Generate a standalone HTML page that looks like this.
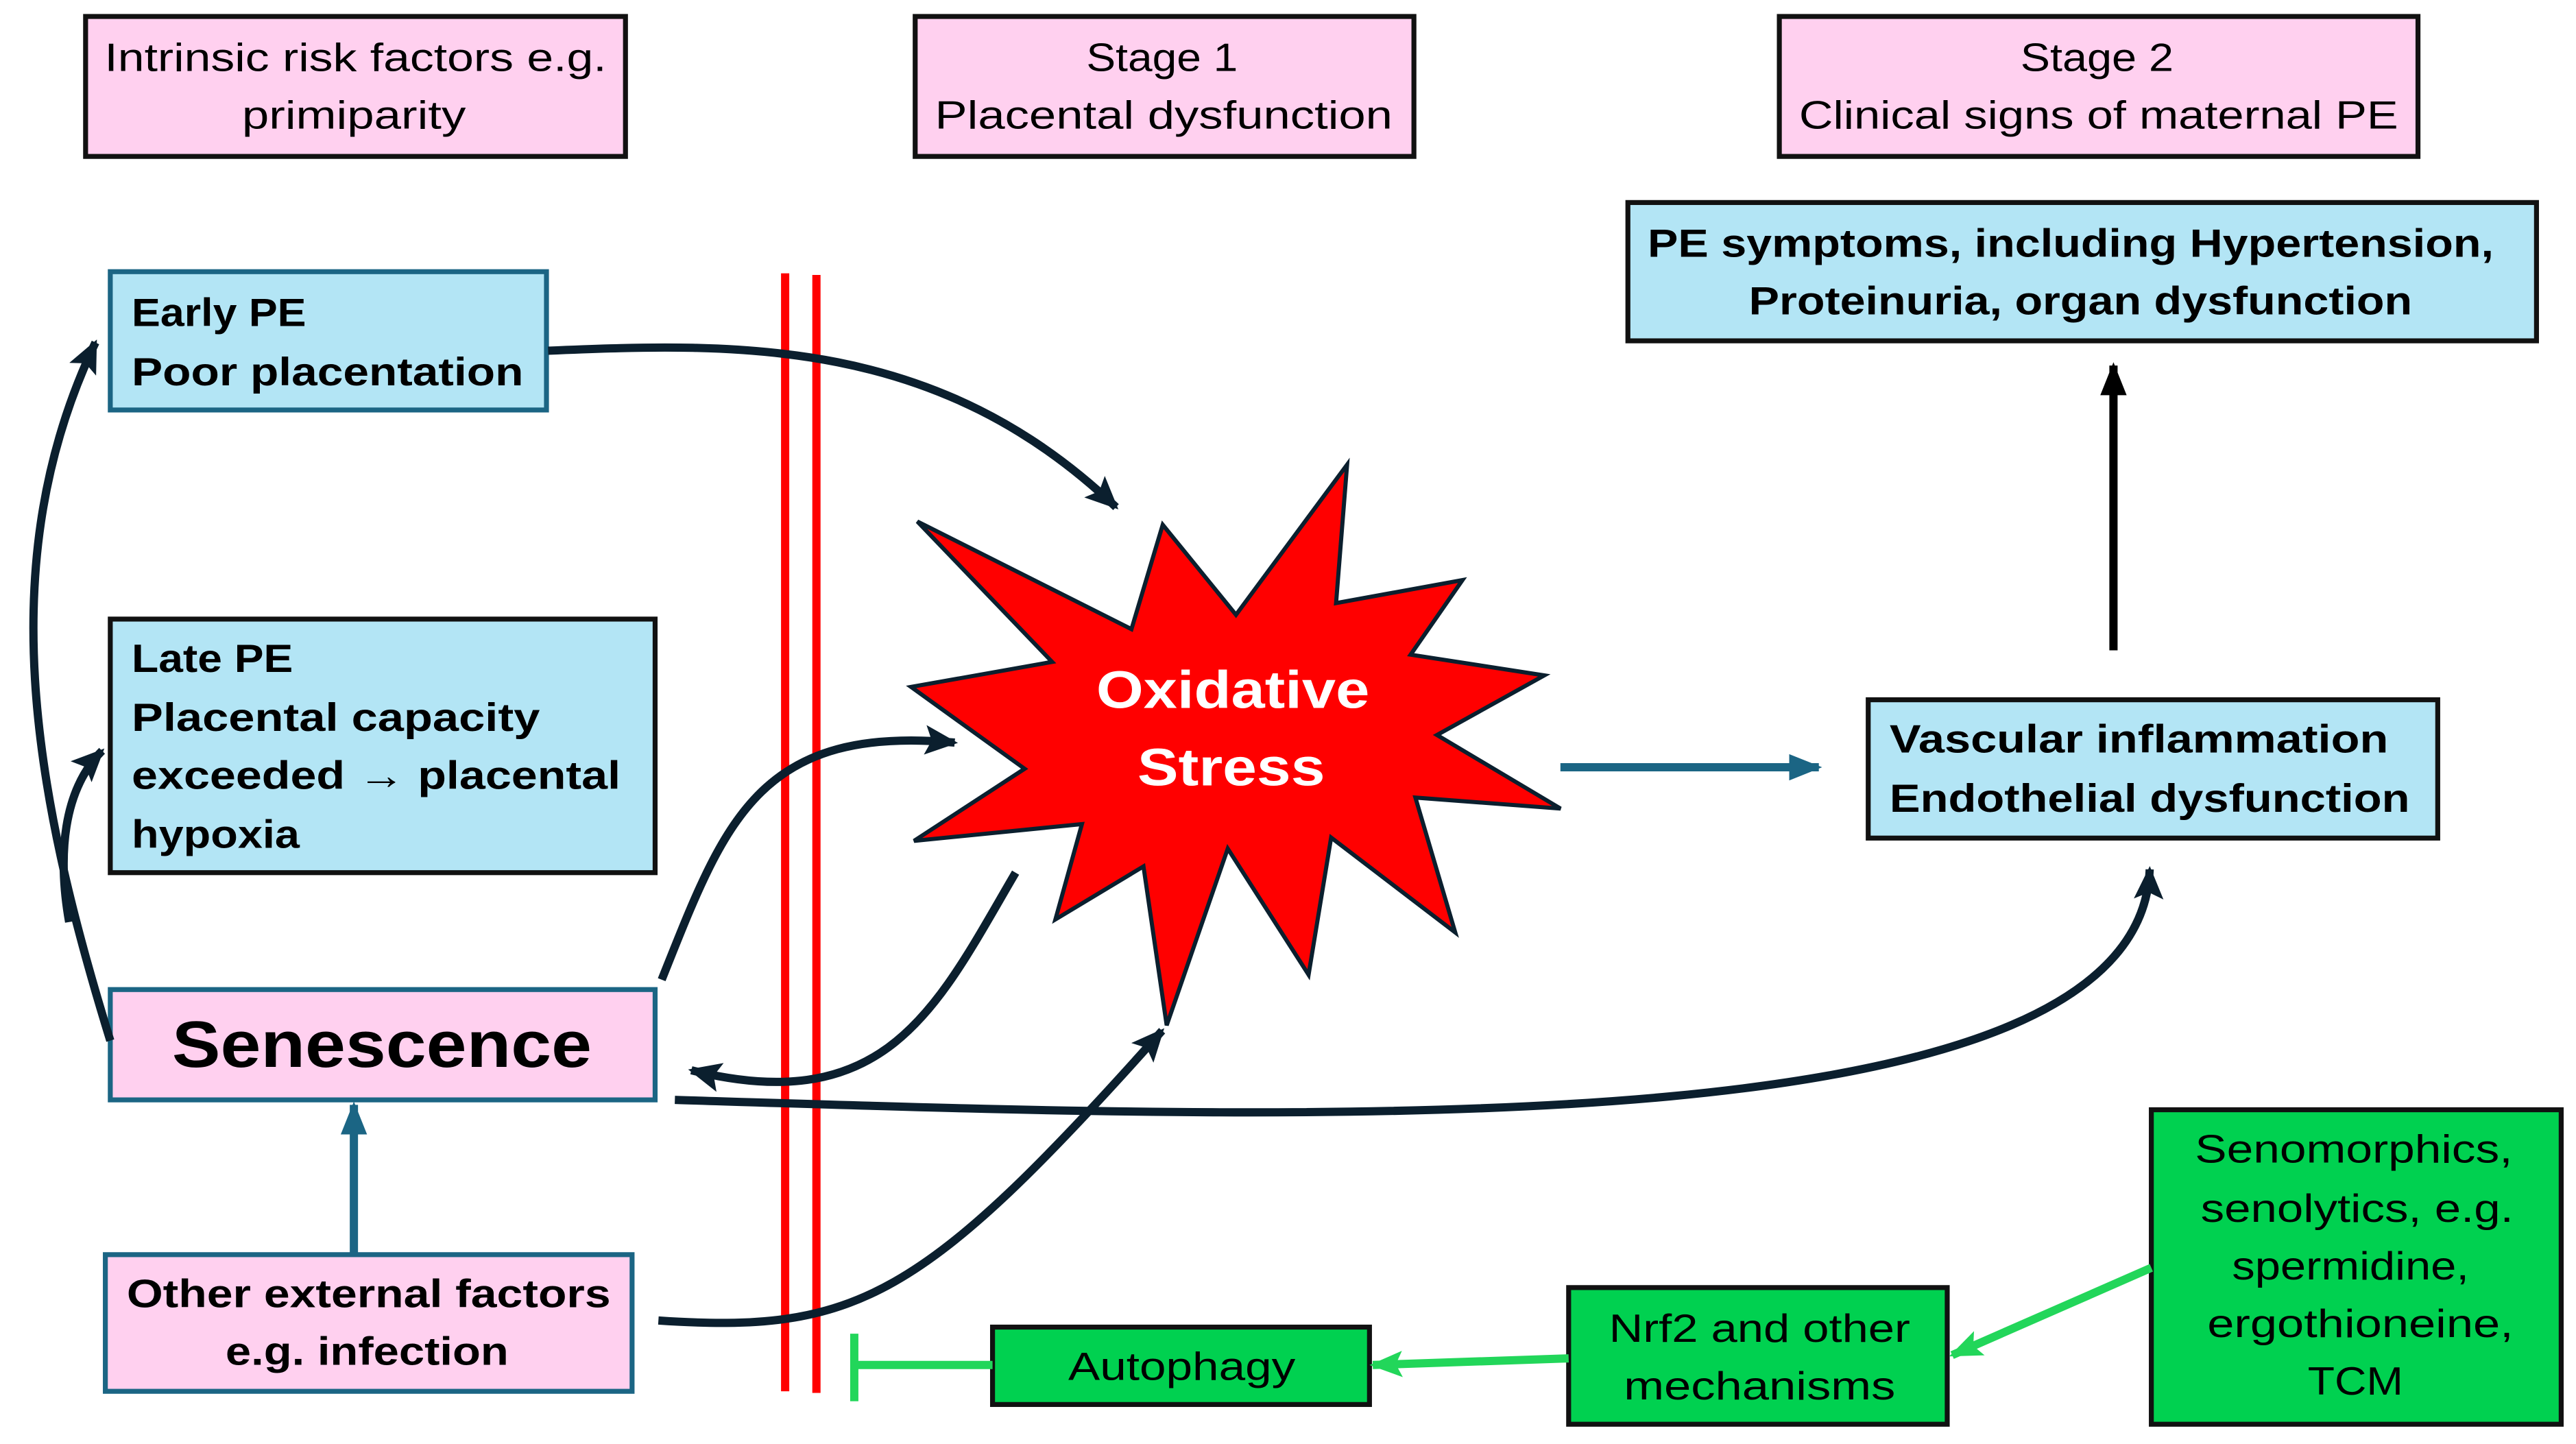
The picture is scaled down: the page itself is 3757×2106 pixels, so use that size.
<!DOCTYPE html>
<html><head><meta charset="utf-8"><style>html,body{margin:0;padding:0;background:#fff;width:3757px;height:2106px;overflow:hidden}svg{display:block}</style></head><body>
<svg width="3757" height="2106" viewBox="0 0 1565 877" preserveAspectRatio="none" xmlns="http://www.w3.org/2000/svg" font-family="'Liberation Sans', sans-serif">
<defs>
<marker id="ad" markerUnits="userSpaceOnUse" markerWidth="22" markerHeight="18" refX="18" refY="9" orient="auto"><path d="M0,0 L20,9 L0,18 L4,9 Z" fill="#0b1f2e"/></marker>
<marker id="ak" markerUnits="userSpaceOnUse" markerWidth="22" markerHeight="18" refX="18" refY="9" orient="auto"><path d="M0,1 L20,9 L0,17 Z" fill="#000"/></marker>
<marker id="at" markerUnits="userSpaceOnUse" markerWidth="22" markerHeight="18" refX="18" refY="9" orient="auto"><path d="M0,1 L20,9 L0,17 Z" fill="#1b6584"/></marker>
<marker id="ag" markerUnits="userSpaceOnUse" markerWidth="22" markerHeight="18" refX="18" refY="9" orient="auto"><path d="M0,1 L20,9 L0,17 L4,9 Z" fill="#22d65a"/></marker>
</defs>
<rect width="1565" height="877" fill="#fff"/>
<!-- header boxes -->
<g stroke="#111" stroke-width="3">
<rect x="52" y="10" width="328" height="85" fill="#ffd0ef"/>
<rect x="556" y="10" width="303" height="85" fill="#ffd0ef"/>
<rect x="1081" y="10" width="388" height="85" fill="#ffd0ef"/>
<rect x="989" y="123" width="552" height="84" fill="#b3e5f5"/>
<rect x="67" y="376" width="331" height="154" fill="#b3e5f5"/>
<rect x="1135" y="425" width="346" height="84" fill="#b3e5f5"/>
<rect x="603" y="806" width="229" height="47" fill="#00d150"/>
<rect x="953" y="782" width="230" height="83" fill="#00d150"/>
<rect x="1307" y="674" width="249" height="191" fill="#00d150"/>
</g>
<g stroke="#1b6584" stroke-width="3">
<rect x="67" y="165" width="265" height="84" fill="#b3e5f5"/>
<rect x="67" y="601" width="331" height="67" fill="#ffd0ef"/>
<rect x="64" y="762" width="320" height="83" fill="#ffd0ef"/>
</g>
<!-- red lines -->
<line x1="477" y1="166" x2="477" y2="845" stroke="#ff0000" stroke-width="5"/>
<line x1="496" y1="167" x2="496" y2="846" stroke="#ff0000" stroke-width="5"/>
<!-- star -->
<polygon points="557.3,316.7 687.4,382.1 706.4,318.7 750.9,373.4 818.4,282.2 811.7,366.3 888.5,352.3 857,397.6 938.2,410.2 873,446.4 948.1,491.1 859.9,484.4 884.1,566.3 808.7,508.7 795,592 745.9,515.4 708.8,622.7 694.7,526.2 641.2,558.4 657.3,500.5 555.3,510.7 622.5,466.9 553.5,417.2 639.2,402" fill="#ff0000" stroke="#0b1f2e" stroke-width="2.5" stroke-linejoin="miter"/>
<text x="749" y="430" font-size="32" font-weight="bold" fill="#fff" text-anchor="middle" textLength="166" lengthAdjust="spacingAndGlyphs">Oxidative</text>
<text x="748" y="477" font-size="32" font-weight="bold" fill="#fff" text-anchor="middle" textLength="114" lengthAdjust="spacingAndGlyphs">Stress</text>
<!-- dark connectors -->
<g fill="none" stroke="#0b1f2e" stroke-width="5">
<path d="M333,213 C450,208 570,205 678,308" marker-end="url(#ad)"/>
<path d="M67,632 C20,480 -5,340 58,208" marker-end="url(#ad)"/>
<path d="M42,560 C35,520 38,480 62,456" marker-end="url(#ad)"/>
<path d="M402,595 C440,500 460,440 580,451" marker-end="url(#ad)"/>
<path d="M617,530 C570,610 540,680 420,650" marker-end="url(#ad)"/>
<path d="M410,668 C800,680 1300,700 1306,528" marker-end="url(#ad)"/>
<path d="M400,802 C520,810 560,790 706,626" marker-end="url(#ad)"/>
</g>
<line x1="1284" y1="395" x2="1284" y2="222" stroke="#000" stroke-width="5" marker-end="url(#ak)"/>
<line x1="215" y1="762" x2="215" y2="671" stroke="#1b6584" stroke-width="5" marker-end="url(#at)"/>
<line x1="948" y1="466" x2="1105" y2="466" stroke="#1b6584" stroke-width="5" marker-end="url(#at)"/>
<!-- green -->
<g stroke="#22d65a" stroke-width="5" fill="none">
<line x1="1307" y1="770" x2="1186" y2="823" marker-end="url(#ag)"/>
<line x1="953" y1="825" x2="834" y2="829" marker-end="url(#ag)"/>
<line x1="603" y1="829" x2="519" y2="829"/>
<line x1="519" y1="810" x2="519" y2="851"/>
</g>
<!-- text -->
<g font-size="24" fill="#000" text-anchor="middle">
<text x="216" y="43" textLength="305" lengthAdjust="spacingAndGlyphs">Intrinsic risk factors e.g.</text>
<text x="215" y="78" textLength="136" lengthAdjust="spacingAndGlyphs">primiparity</text>
<text x="706" y="43" textLength="92" lengthAdjust="spacingAndGlyphs">Stage 1</text>
<text x="707" y="78" textLength="278" lengthAdjust="spacingAndGlyphs">Placental dysfunction</text>
<text x="1274" y="43" textLength="93" lengthAdjust="spacingAndGlyphs">Stage 2</text>
<text x="1275" y="78" textLength="364" lengthAdjust="spacingAndGlyphs">Clinical signs of maternal PE</text>
<text x="718" y="838" textLength="138" lengthAdjust="spacingAndGlyphs">Autophagy</text>
<text x="1069" y="815" textLength="183" lengthAdjust="spacingAndGlyphs">Nrf2 and other</text>
<text x="1069" y="850" textLength="165" lengthAdjust="spacingAndGlyphs">mechanisms</text>
<text x="1430" y="706" textLength="193" lengthAdjust="spacingAndGlyphs">Senomorphics,</text>
<text x="1432" y="742" textLength="190" lengthAdjust="spacingAndGlyphs">senolytics, e.g.</text>
<text x="1428" y="777" textLength="144" lengthAdjust="spacingAndGlyphs">spermidine,</text>
<text x="1434" y="812" textLength="186" lengthAdjust="spacingAndGlyphs">ergothioneine,</text>
<text x="1431" y="847" textLength="58" lengthAdjust="spacingAndGlyphs">TCM</text>
</g>
<g font-size="24" font-weight="bold" fill="#000">
<text x="1258" y="156" text-anchor="middle" textLength="514" lengthAdjust="spacingAndGlyphs">PE symptoms, including Hypertension,</text>
<text x="1264" y="191" text-anchor="middle" textLength="403" lengthAdjust="spacingAndGlyphs">Proteinuria, organ dysfunction</text>
<text x="80" y="198" textLength="106" lengthAdjust="spacingAndGlyphs">Early PE</text>
<text x="80" y="234" textLength="238" lengthAdjust="spacingAndGlyphs">Poor placentation</text>
<text x="80" y="408" textLength="98" lengthAdjust="spacingAndGlyphs">Late PE</text>
<text x="80" y="444" textLength="248" lengthAdjust="spacingAndGlyphs">Placental capacity</text>
<text x="80" y="479" textLength="297" lengthAdjust="spacingAndGlyphs">exceeded → placental</text>
<text x="80" y="515" textLength="102" lengthAdjust="spacingAndGlyphs">hypoxia</text>
<text x="1148" y="457" textLength="303" lengthAdjust="spacingAndGlyphs">Vascular inflammation</text>
<text x="1148" y="493" textLength="316" lengthAdjust="spacingAndGlyphs">Endothelial dysfunction</text>
<text x="224" y="794" text-anchor="middle" textLength="294" lengthAdjust="spacingAndGlyphs">Other external factors</text>
<text x="223" y="829" text-anchor="middle" textLength="172" lengthAdjust="spacingAndGlyphs">e.g. infection</text>
<text x="232" y="648" text-anchor="middle" font-size="40" textLength="255" lengthAdjust="spacingAndGlyphs">Senescence</text>
</g>
</svg>
</body></html>
